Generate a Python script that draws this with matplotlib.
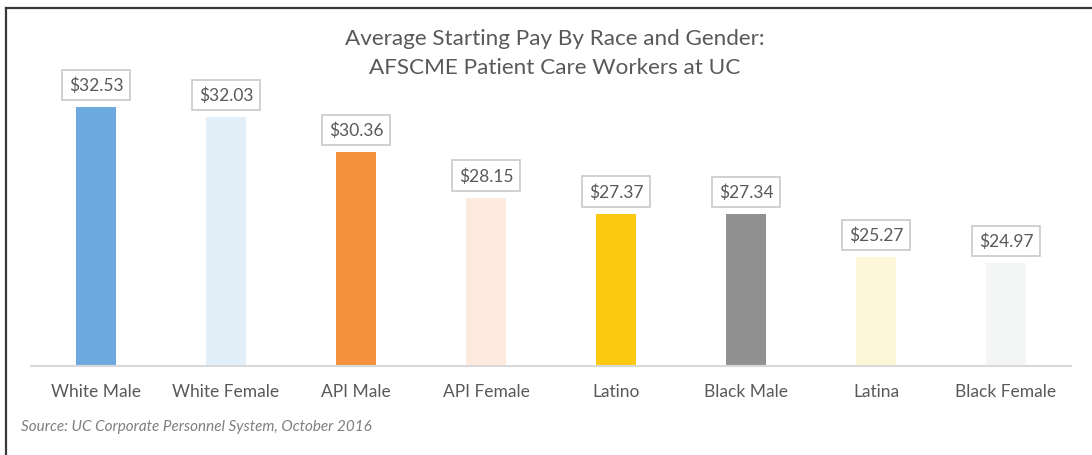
import matplotlib
matplotlib.use("Agg")
import matplotlib.pyplot as plt
from matplotlib.lines import Line2D

categories = ["White Male", "White Female", "API Male", "API Female",
              "Latino", "Black Male", "Latina", "Black Female"]
pay = [32.53, 32.03, 30.36, 28.15, 27.37, 27.34, 25.27, 24.97]
colors = ["#6CAADF", "#E2EFF9", "#F4923E", "#FCEADF",
          "#FDC90E", "#919191", "#FEF6D9", "#F4F6F6"]

plt.rcParams["font.family"] = ["Lato", "DejaVu Sans"]
txt = "#595959"

fig = plt.figure(figsize=(10.92, 4.56), dpi=100)
W, H = 1092, 456
ax = fig.add_axes([31 / W, (H - 367) / H, 1040 / W, 307 / H])

x = range(len(categories))
ax.bar(x, pay, width=0.315, color=colors, zorder=2)
ax.set_xlim(-0.5, len(categories) - 0.5)
ax.set_ylim(20, 20 + 307 / 20.67)

for i, v in zip(x, pay):
    ax.annotate("${:.2f}".format(v), (i, v), xytext=(0, 10), textcoords="offset points",
                ha="center", va="bottom", fontsize=12.5, color=txt,
                bbox=dict(boxstyle="square,pad=0.4", fc="white", ec="#c9c9c9", lw=1.2))

ax.set_yticks([])
ax.set_xticks(list(x))
ax.set_xticklabels(categories, fontsize=12.5, color=txt)
ax.tick_params(axis="x", length=0, pad=12)
for s in ["left", "right", "top"]:
    ax.spines[s].set_visible(False)
ax.spines["bottom"].set_color("#d9d9d9")
ax.spines["bottom"].set_linewidth(1.5)

fig.text(555 / W, 1 - 45 / H, "Average Starting Pay By Race and Gender:", ha="center",
         va="baseline", fontsize=16.2, color=txt)
fig.text(555 / W, 1 - 74 / H, "AFSCME Patient Care Workers at UC", ha="center",
         va="baseline", fontsize=16.2, color=txt)
fig.text(21 / W, 1 - 427 / H, "Source: UC Corporate Personnel System, October 2016",
         ha="left", va="center", fontsize=11, style="italic", color="#7f7f7f")

# chart frame (top and left edges visible)
fig.add_artist(Line2D([6 / W, 1], [1 - 9 / H, 1 - 9 / H], color="#3a3a3a", lw=1.6))
fig.add_artist(Line2D([6 / W, 6 / W], [0, 1 - 9 / H], color="#3a3a3a", lw=1.6))

fig.savefig("out.png", dpi=100)
